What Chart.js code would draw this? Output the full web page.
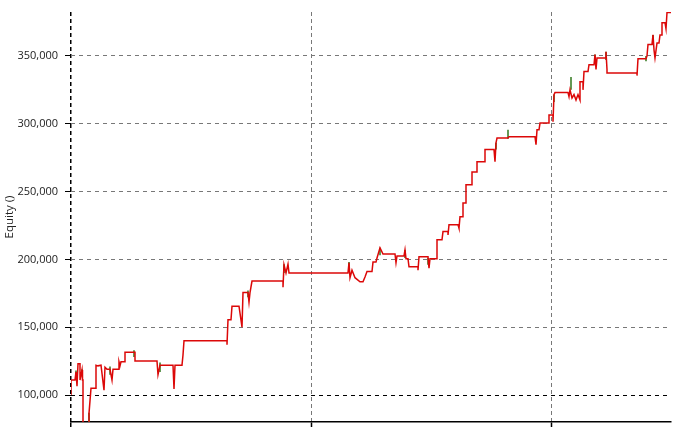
<!DOCTYPE html>
<html>
<head>
<meta charset="utf-8">
<script src="https://cdn.jsdelivr.net/npm/chart.js@4"></script>
<style>
html,body{margin:0;padding:0;background:#fff;}
#wrap{width:681px;height:427px;position:relative;}
</style>
</head>
<body>
<div id="wrap"><canvas id="c"></canvas></div>
<script>
// Equity curve: bar index and equity value
const bars = [0,0,4,5,6,7,9,9,11,11.5,12,12,18,18,20,25,25,27,30,33,34,36,39,41,42,48,48,49,50,54,54,64,64,86,87,89,102,103,104,111,112,113,156,156,157,160,161,168,171,172,177,178,179,181,212,212,213,215,217,218,277,278,279,281,284,289,292,294,296,301,302,305,306,309,312,324,325,326,333,334,335,337,338,347,347,348,357,358,359,366,366,371,372,377,377,378,387,388,389,392,392,395,395,401,401,406,406,414,414,423,424,425,426,437,438,464,465,466,468,469,478,478,482,482,483,484,497,498,499,501,503,505,507,509,509,512,512,513,517,518,523,524,525,526,535,535,536,536,566,566,567,575,576,577,581,582,583,584,586,588,589,591,591,594,595,596,600];
const equity = [100000,111000,111000,117000,106500,123000,123000,111000,118500,111000,111000,78000,78000,86500,105000,105000,122000,121500,122000,103500,120500,119000,119000,111000,119000,119000,124500,121500,124500,124500,131500,131500,125000,125000,115000,122000,122000,104500,122000,122000,129500,140000,140000,137000,155500,155500,165500,165500,150000,175500,175500,168500,175500,184000,184000,179500,196000,190000,196500,190000,190000,197500,186500,192000,186500,183500,183500,187000,191000,191000,198000,198000,201000,208500,204000,204000,197500,202500,202500,207000,200500,200500,194500,194500,192000,202000,202000,193500,200500,200500,214500,214500,220500,220500,218000,225500,225500,223000,231500,231500,241500,241500,255000,255000,264500,264500,272000,272000,281000,281000,272000,286000,289500,289500,290500,290500,284500,295500,295500,300500,300500,306500,306500,301500,321500,323000,323000,320000,325000,319000,321500,317500,321500,317500,331000,331000,325000,338500,338500,343500,343500,351000,340000,348500,348500,353000,340000,337500,337500,335500,348000,348000,350000,358500,358500,365500,354500,348500,359500,359500,365500,365500,374500,374500,370000,382000,382000];
// Up-moves shown in green: bar, low, high
const upBars = [5,11,18,39,63,89,177,213,278,309,334,357,425,437,483,500,524,535,575,582];
const upLow  = [113500,114000,80000,115000,128000,117000,172000,190000,192000,203000,201000,196000,281000,289000,316000,325000,345000,347000,346000,358000];
const upHigh = [118000,119000,87000,121000,133000,124000,177000,196500,198000,208500,207000,201000,286000,295500,321500,334500,351000,353000,350000,365500];
const yTicks = [100000,150000,200000,250000,300000,350000];
const xTicks = [0,240,480];
const yTitle = 'Equity ()';

const redPts = bars.map((x,i)=>({x:x,y:equity[i]}));
const greenPts = [];
upBars.forEach((x,i)=>{greenPts.push({x:x,y:upLow[i]},{x:x,y:upHigh[i]},{x:x,y:null});});

new Chart(document.getElementById('c'),{
  type:'line',
  data:{datasets:[
    {data:redPts,borderColor:'rgb(220,8,8)',borderWidth:1.5,pointRadius:0,tension:0,fill:false},
    {data:greenPts,borderColor:'rgb(50,120,30)',borderWidth:1.5,pointRadius:0,tension:0,fill:false,spanGaps:false}
  ]},
  options:{
    responsive:true,maintainAspectRatio:false,animation:false,
    layout:{padding:{top:12,right:10,left:0,bottom:0}},
    plugins:{legend:{display:false},tooltip:{enabled:false}},
    scales:{
      x:{type:'linear',min:0,max:600,
        afterBuildTicks:s=>{s.ticks=xTicks.map(v=>({value:v}));},
        afterFit:s=>{s.height=5;s.paddingLeft=0;s.paddingRight=0;},
        ticks:{display:false},
        grid:{color:c=>(c.tick&&c.tick.value===0)?'#000':'rgb(120,120,120)',
              lineWidth:c=>(c.tick&&c.tick.value===0)?1.5:1,
              drawTicks:true,tickLength:5,tickColor:'#000',tickBorderDash:[],tickWidth:1.5},
        border:{display:true,color:'#000',width:1.5,dash:[4,3]}
      },
      y:{type:'linear',min:80100,max:382400,
        afterBuildTicks:s=>{s.ticks=yTicks.map(v=>({value:v}));},
        afterFit:s=>{s.width=71;s.paddingTop=0;s.paddingBottom=0;},
        ticks:{padding:7,color:'#222',font:{family:'Open Sans',size:11},callback:v=>v.toLocaleString('en-US')},
        grid:{color:c=>(c.tick&&c.tick.value===100000)?'#000':'rgb(120,120,120)',lineWidth:1,drawTicks:true,tickLength:6,tickColor:'#000',tickBorderDash:[],tickWidth:1},
        border:{display:false,dash:[4,4]},
        title:{display:true,text:yTitle,color:'#222',font:{family:'Open Sans',size:11.5},padding:{top:3,bottom:3}}
      }
    }
  }
});
</script>
</body>
</html>
